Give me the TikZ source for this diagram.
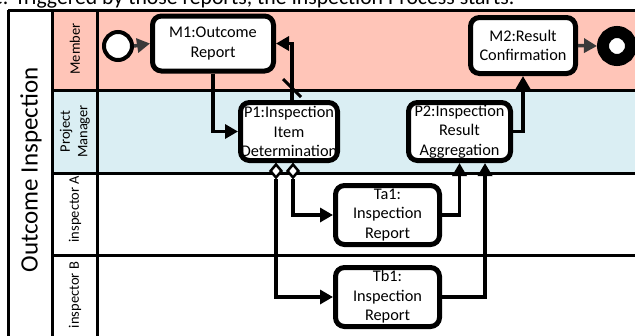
\documentclass[tikz,border=0pt]{standalone}
\usepackage{fontspec}
\setmainfont{Carlito}
\usetikzlibrary{arrows.meta,shapes.geometric,calc}
\definecolor{memberfill}{RGB}{255,197,184}
\definecolor{pmfill}{RGB}{218,238,243}
\definecolor{flowgray}{RGB}{58,58,58}

\begin{document}
\begin{tikzpicture}[x=1pt,y=-1pt,
  task/.style={draw, line width=5pt, rounded corners=9pt, fill=white,
    align=center, inner sep=0pt, font=\fontsize{16.3}{19.5}\selectfont},
  flow/.style={line width=3.5pt, -{Triangle[length=13pt,width=14pt]}},
  grayflow/.style={flow, draw=flowgray},
  lanerule/.style={line width=3pt},
  lanelabel/.style={rotate=90, align=center, inner sep=0pt,
    font=\fontsize{14.5}{17.5}\selectfont},
  gatemark/.style={shape=diamond, draw, fill=white, line width=2.5pt,
    inner sep=0pt, minimum width=12pt, minimum height=14pt},
  startevent/.style={circle, draw, fill=white, line width=4pt,
    minimum size=28pt, inner sep=0pt},
  endevent/.style={circle, draw, fill=white, line width=12pt,
    minimum size=28pt, inner sep=0pt}
]
\useasboundingbox (0,0) rectangle (635,335);

% caption line above the pool
\node[anchor=base west, inner sep=0pt, font=\fontsize{21.7}{26}\selectfont]
  (caption) at (-8.2,4.5) {e. Triggered by those reports, the Inspection Process starts.};

% lane backgrounds
\fill[memberfill] (52,10) rectangle (635,90);
\fill[pmfill] (52,90) rectangle (635,173);

% pool and lane frame
\draw[lanerule] (8,10) -- (636,10);
\draw[lanerule] (8,10) -- (8,336);
\draw[lanerule] (52,10) -- (52,336);
\draw[lanerule] (97,10) -- (97,336);
\draw[lanerule] (52,90) -- (636,90);
\draw[lanerule] (52,173) -- (636,173);
\draw[lanerule] (52,255) -- (636,255);

% pool and lane titles
\node[rotate=90, inner sep=0pt, font=\fontsize{25}{28}\selectfont]
  (pool) at (31,170) {Outcome Inspection};
\node[lanelabel] (lmember) at (75,49) {Member};
\node[lanelabel] (lpm) at (75,131.5) {Project\\Manager};
\node[lanelabel] (lia) at (75,209) {inspector A};
\node[lanelabel] (lib) at (75,295) {inspector B};

% events
\node[startevent] (start) at (118,46) {};
\node[endevent] (end) at (617,46) {};

% tasks
\node[task, minimum width=121pt, minimum height=55pt] (M1) at (213,43.5)
  {M1:Outcome\\Report};
\node[task, minimum width=105pt, minimum height=56pt] (M2) at (523,45.5)
  {M2:Result\\Confirmation};
\node[task, minimum width=97pt, minimum height=58pt] (P1) at (289,131.5)
  {P1:Inspection\\Item\\Determination};
\node[task, minimum width=102pt, minimum height=58pt] (P2) at (459.5,131.5)
  {P2:Inspection\\Result\\Aggregation};
\node[task, minimum width=104pt, minimum height=59pt] (Ta1) at (387.5,215)
  {Ta1:\\Inspection\\Report};
\node[task, minimum width=104pt, minimum height=59pt] (Tb1) at (387.5,297)
  {Tb1:\\Inspection\\Report};

% conditional markers under P1
\node[gatemark] (d1) at (276,171) {};
\node[gatemark] (d2) at (293,171) {};

% sequence flows
\draw[grayflow] (start.east) -- (M1.west);
\draw[flow] (M1.south) |- (P1.west);
\draw[flow] ($(P1.north)+(3,0)$) |- (M1.east);
\coordinate (slash) at (292,88);
\draw[line width=3pt] ($(slash)+(-9,-9)$) -- ($(slash)+(9,9)$);
\draw[flow] (d2.south) |- (Ta1.west);
\draw[flow] (d1.south) |- (Tb1.west);
\draw[flow] (Ta1.east) -| (P2.south);
\draw[flow] (Tb1.east) -| ($(P2.south)+(25.5,0)$);
\draw[flow] (P2.east) -| (M2.south);
\draw[grayflow] (M2.east) -- (end.west);
\end{tikzpicture}
\end{document}
